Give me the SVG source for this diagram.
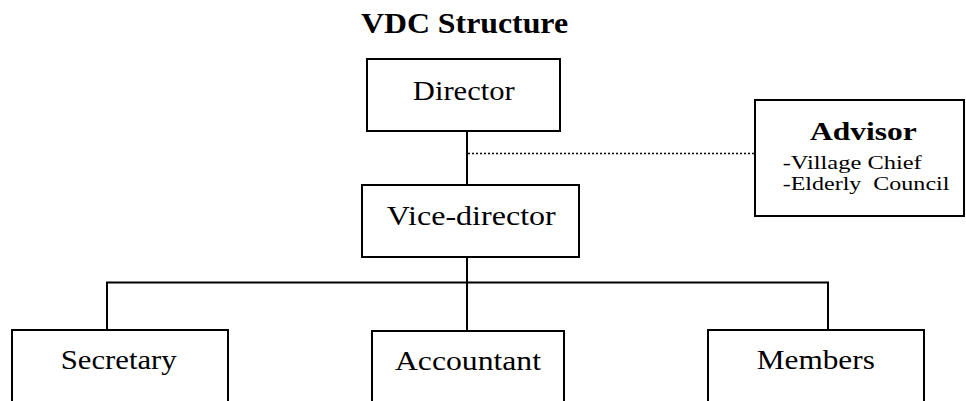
<svg xmlns="http://www.w3.org/2000/svg" width="966" height="401" viewBox="0 0 966 401">
<style>
.box{fill:#fff;stroke:#000;stroke-width:2}
.ln{stroke:#000;stroke-width:2;fill:none}
.dot{stroke:#000;stroke-width:1.5;stroke-dasharray:2,2;fill:none}
</style>
<rect width="966" height="401" fill="#fff"/>
<g font-family="Liberation Serif, Times New Roman, serif" fill="#000">
<text x="464.5" y="33" font-size="30" font-weight="bold" text-anchor="middle" textLength="207" lengthAdjust="spacingAndGlyphs">VDC Structure</text>
<g id="connectors">
<line class="ln" x1="467" y1="131" x2="467" y2="185"/>
<line class="dot" x1="468" y1="153.5" x2="755" y2="153.5"/>
<line class="ln" x1="467" y1="257" x2="467" y2="331"/>
<line class="ln" x1="106" y1="282.5" x2="829" y2="282.5"/>
<line class="ln" x1="107" y1="282.5" x2="107" y2="330"/>
<line class="ln" x1="828" y1="282.5" x2="828" y2="330"/>
</g>
<g id="director">
<rect class="box" x="367" y="59" width="193" height="72"/>
<text x="463.8" y="99.5" font-size="27" text-anchor="middle" textLength="102" lengthAdjust="spacingAndGlyphs">Director</text>
</g>
<g id="vice-director">
<rect class="box" x="362" y="185" width="217" height="72"/>
<text x="471.3" y="225" font-size="27" text-anchor="middle" textLength="169" lengthAdjust="spacingAndGlyphs">Vice-director</text>
</g>
<g id="advisor">
<rect class="box" x="755" y="100" width="209" height="116"/>
<text x="863.3" y="139.5" font-size="26" font-weight="bold" text-anchor="middle" textLength="106.7" lengthAdjust="spacingAndGlyphs">Advisor</text>
<text x="782.7" y="168.5" font-size="19" textLength="139" lengthAdjust="spacingAndGlyphs">-Village Chief</text>
<text x="782.7" y="189.5" font-size="19" xml:space="preserve" style="white-space:pre" textLength="166.7" lengthAdjust="spacingAndGlyphs">-Elderly  Council</text>
</g>
<g id="secretary">
<rect class="box" x="12" y="330" width="216" height="80"/>
<text x="118.7" y="368.5" font-size="27" text-anchor="middle" textLength="116" lengthAdjust="spacingAndGlyphs">Secretary</text>
</g>
<g id="accountant">
<rect class="box" x="372" y="331" width="192" height="80"/>
<text x="468" y="370" font-size="27" text-anchor="middle" textLength="146" lengthAdjust="spacingAndGlyphs">Accountant</text>
</g>
<g id="members">
<rect class="box" x="708" y="330" width="216" height="80"/>
<text x="815.8" y="369" font-size="27" text-anchor="middle" textLength="118" lengthAdjust="spacingAndGlyphs">Members</text>
</g>
</g>
</svg>
